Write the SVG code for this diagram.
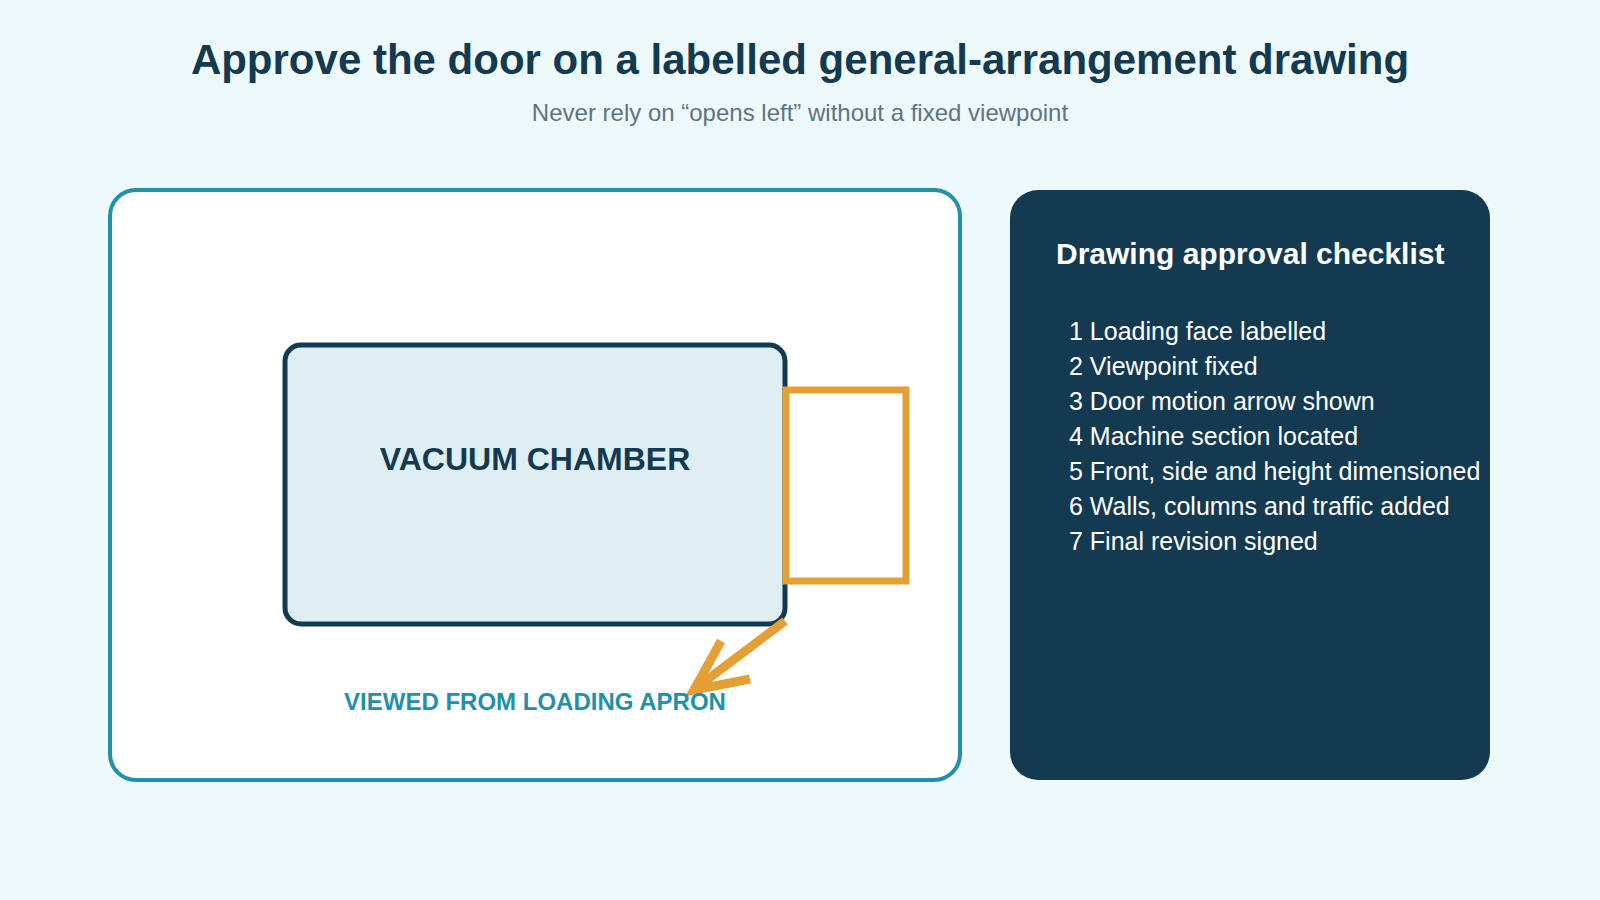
<svg xmlns="http://www.w3.org/2000/svg" width="1600" height="900" viewBox="0 0 1600 900">
<style>
text{font-family:"Liberation Sans",Arial,sans-serif}
.item{fill:#ffffff;font-size:25px}
</style>
<rect width="1600" height="900" fill="#eef9fb"/>
<text x="800" y="74" text-anchor="middle" font-size="42" font-weight="bold" fill="#133a50">Approve the door on a labelled general-arrangement drawing</text>
<text x="800" y="121" text-anchor="middle" font-size="24" fill="#5f7480">Never rely on “opens left” without a fixed viewpoint</text>
<g id="panel-left"><rect x="110" y="190" width="850" height="590" rx="26" fill="#ffffff" stroke="#2190a8" stroke-width="4"/></g>
<g id="chamber"><rect x="285" y="345" width="500" height="279" rx="16" fill="#deeef3" stroke="#133a50" stroke-width="5"/>
<text x="535" y="470" text-anchor="middle" font-size="32" font-weight="bold" fill="#133a50">VACUUM CHAMBER</text></g>
<g id="door"><rect x="786" y="390" width="120" height="191" fill="none" stroke="#e69f35" stroke-width="7"/></g>
<g id="connectors" stroke="#e69f35" stroke-width="9" fill="none">
<line x1="785" y1="621" x2="696" y2="688"/>
<polyline points="721,641 694,690 750,679"/>
</g>
<text x="535" y="710" text-anchor="middle" font-size="24" font-weight="bold" fill="#2190a8">VIEWED FROM LOADING APRON</text>
<g id="checklist"><rect x="1010" y="190" width="480" height="590" rx="28" fill="#133a50"/>
<text x="1056" y="264" font-size="30" font-weight="bold" fill="#ffffff">Drawing approval checklist</text>
<text class="item" x="1069" y="340">1 Loading face labelled</text>
<text class="item" x="1069" y="375">2 Viewpoint fixed</text>
<text class="item" x="1069" y="410">3 Door motion arrow shown</text>
<text class="item" x="1069" y="445">4 Machine section located</text>
<text class="item" x="1069" y="480">5 Front, side and height dimensioned</text>
<text class="item" x="1069" y="515">6 Walls, columns and traffic added</text>
<text class="item" x="1069" y="550">7 Final revision signed</text></g>
</svg>
